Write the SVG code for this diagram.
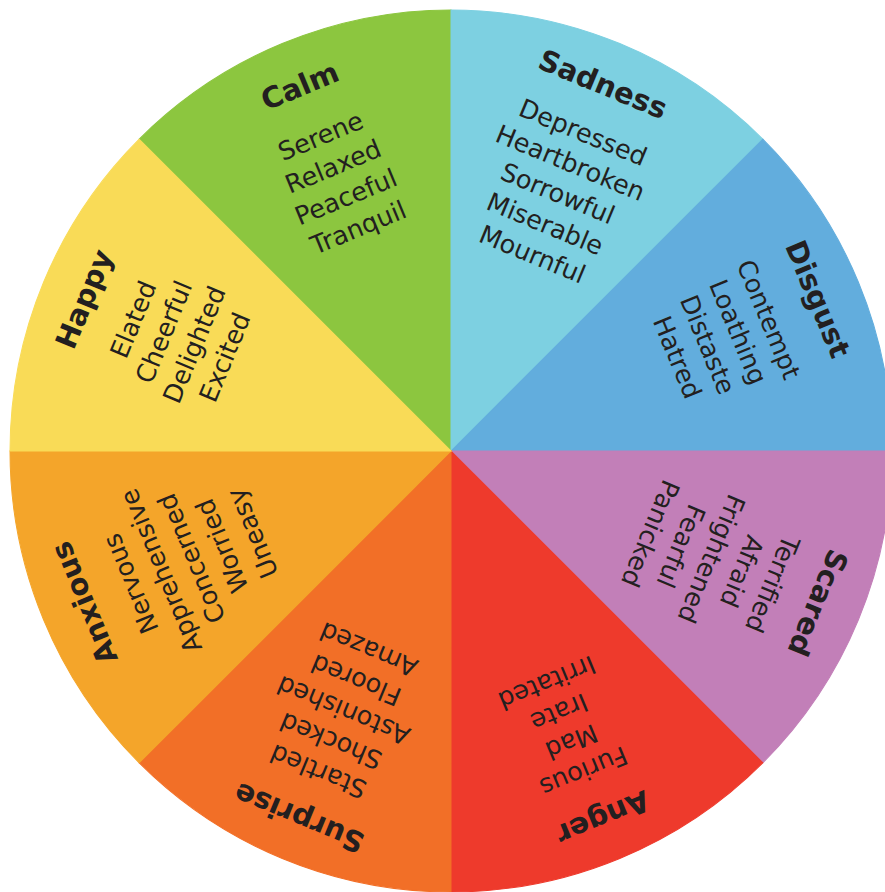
<svg xmlns="http://www.w3.org/2000/svg" xmlns:xlink="http://www.w3.org/1999/xlink" width="885" height="892" viewBox="0 0 885 892">
<style>
.t{font-family:"DejaVu Sans","Liberation Sans",sans-serif;font-size:29px;font-weight:bold;fill:#231F20;text-anchor:middle}
.l{font-family:"DejaVu Sans","Liberation Sans",sans-serif;font-size:25.5px;fill:#231F20;text-anchor:middle}
.s{stroke-width:1}
</style>
<defs>
<path id="sector" d="M451,451 L282.24,43.57 A441,441 0 0 1 619.76,43.57 Z"/>
</defs>
<rect width="885" height="892" fill="#FFFFFF"/>
<g id="calm" transform="rotate(-22.5 451 451)">
<use xlink:href="#sector" fill="#8CC63F" stroke="#8CC63F" class="s"/>
<text class="t" x="451" y="66">Calm</text>
<text class="l" x="451" y="119">Serene</text>
<text class="l" x="451" y="152">Relaxed</text>
<text class="l" x="451" y="185">Peaceful</text>
<text class="l" x="451" y="218">Tranquil</text>
</g>
<g id="sadness" transform="rotate(22.5 451 451)">
<use xlink:href="#sector" fill="#7DD0E1" stroke="#7DD0E1" class="s"/>
<text class="t" x="451" y="64">Sadness</text>
<text class="l" x="451" y="115">Depressed</text>
<text class="l" x="451" y="148">Heartbroken</text>
<text class="l" x="451" y="181">Sorrowful</text>
<text class="l" x="451" y="214">Miserable</text>
<text class="l" x="451" y="247">Mournful</text>
</g>
<g id="disgust" transform="rotate(67.5 451 451)">
<use xlink:href="#sector" fill="#62ADDD" stroke="#62ADDD" class="s"/>
<text class="t" x="451" y="64">Disgust</text>
<text class="l" x="451" y="116">Contempt</text>
<text class="l" x="451" y="149">Loathing</text>
<text class="l" x="451" y="182">Distaste</text>
<text class="l" x="451" y="215">Hatred</text>
</g>
<g id="scared" transform="rotate(112.5 451 451)">
<use xlink:href="#sector" fill="#C27FB8" stroke="#C27FB8" class="s"/>
<text class="t" x="451" y="64">Scared</text>
<text class="l" x="451" y="112">Terrified</text>
<text class="l" x="451" y="145">Afraid</text>
<text class="l" x="451" y="178">Frightened</text>
<text class="l" x="451" y="211">Fearful</text>
<text class="l" x="451" y="244">Panicked</text>
</g>
<g id="anger" transform="rotate(157.5 451 451)">
<use xlink:href="#sector" fill="#EE3A2C" stroke="#EE3A2C" class="s"/>
<text class="t" x="451" y="64">Anger</text>
<text class="l" x="451" y="113">Furious</text>
<text class="l" x="451" y="145">Mad</text>
<text class="l" x="451" y="177">Irate</text>
<text class="l" x="451" y="209">Irritated</text>
</g>
<g id="surprise" transform="rotate(-157.5 451 451)">
<use xlink:href="#sector" fill="#F26F27" stroke="#F26F27" class="s"/>
<text class="t" x="451" y="64">Surprise</text>
<text class="l" x="451" y="113">Startled</text>
<text class="l" x="451" y="146">Shocked</text>
<text class="l" x="451" y="179">Astonished</text>
<text class="l" x="451" y="212">Floored</text>
<text class="l" x="451" y="245">Amazed</text>
</g>
<g id="anxious" transform="rotate(-112.5 451 451)">
<use xlink:href="#sector" fill="#F4A52A" stroke="#F4A52A" class="s"/>
<text class="t" x="451" y="64">Anxious</text>
<text class="l" x="451" y="113">Nervous</text>
<text class="l" x="451" y="146">Apprehensive</text>
<text class="l" x="451" y="179">Concerned</text>
<text class="l" x="451" y="212">Worried</text>
<text class="l" x="451" y="245">Uneasy</text>
</g>
<g id="happy" transform="rotate(-67.5 451 451)">
<use xlink:href="#sector" fill="#F9DB57" stroke="#F9DB57" class="s"/>
<text class="t" x="451" y="64">Happy</text>
<text class="l" x="451" y="116">Elated</text>
<text class="l" x="451" y="149">Cheerful</text>
<text class="l" x="451" y="182">Delighted</text>
<text class="l" x="451" y="215">Excited</text>
</g>
<g id="connectors"></g>
</svg>
